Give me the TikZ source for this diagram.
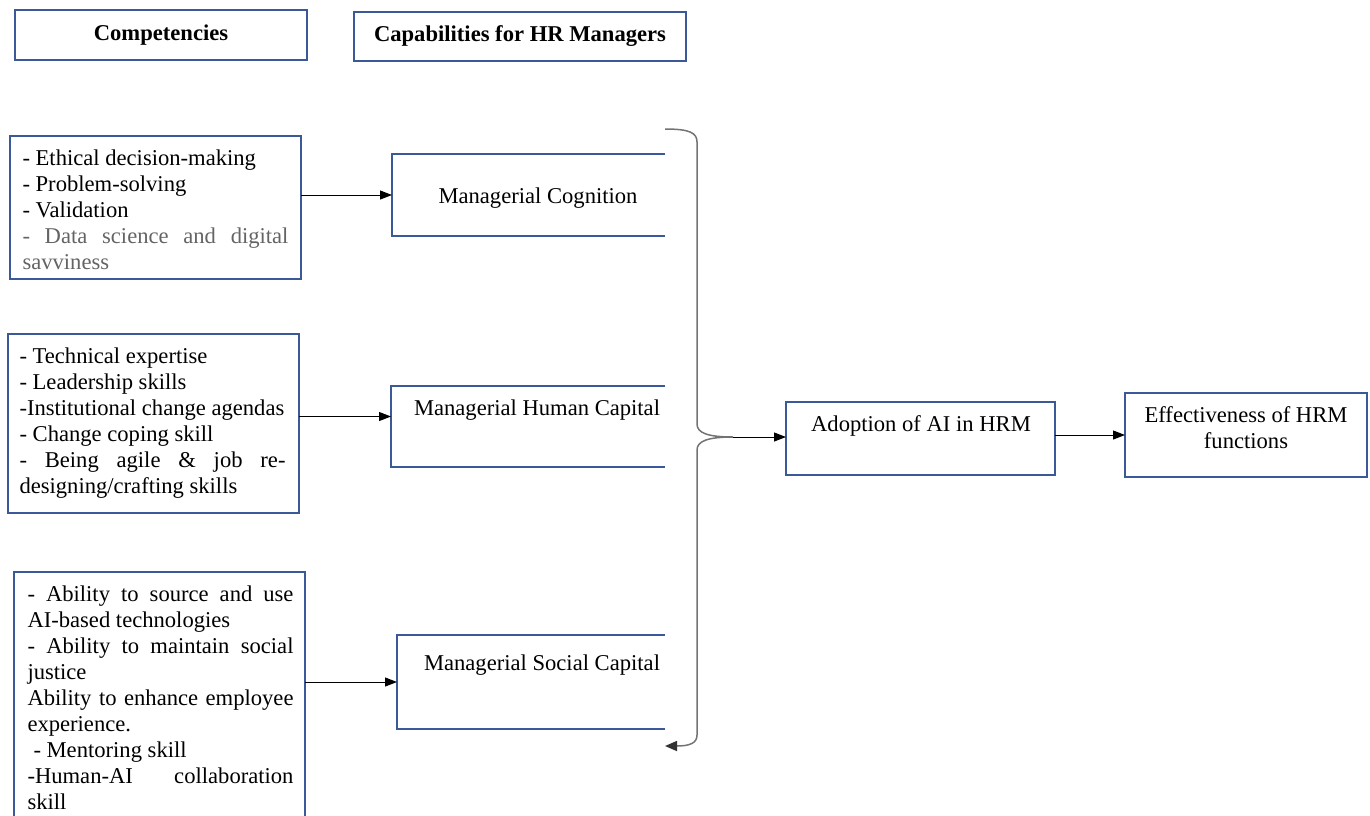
\documentclass[tikz,border=0pt]{standalone}
\usepackage{fontspec}
\setmainfont{Liberation Serif}
\usetikzlibrary{arrows.meta}
\definecolor{boxblue}{RGB}{59,89,152}
\definecolor{bracegray}{RGB}{115,115,115}
\definecolor{textgray}{RGB}{100,100,100}

\begin{document}
\begin{tikzpicture}[x=0.5pt,y=-0.5pt,font=\fontsize{11.3}{13}\selectfont,
	box/.style={draw=boxblue,line width=0.75pt,inner sep=0,outer sep=0},
	hollow/.style={inner sep=0,outer sep=0},
	open/.style={draw=boxblue,line width=0.75pt},
	list/.style={inner sep=0,text width=133pt,align=justify,anchor=north},
	arr/.style={-{Triangle[length=6pt,width=4.5pt]},line width=0.5pt},
	brace/.style={draw=bracegray,line width=0.75pt}]
	\useasboundingbox (0,0) rectangle (1370,815);
	% headings
	\node[box,minimum width=146pt,minimum height=25pt,font=\fontsize{11.3}{13}\selectfont\bfseries] (h1) at (161,35) {Competencies};
	\node[box,minimum width=166pt,minimum height=24.5pt,font=\fontsize{11.3}{13}\selectfont\bfseries] (h2) at (520,36.5) {Capabilities for HR Managers};
	% competencies
	\node[box,minimum width=145.5pt,minimum height=71.5pt] (c1) at (155.5,207.5) {};
	\node[list] (t1) at (155.5,149) {- Ethical decision-making\\
		- Problem-solving\\
		- Validation\\
		{\color{textgray}- Data science and digital\linebreak savviness}};
	\node[box,minimum width=145.5pt,minimum height=89.5pt] (c2) at (153.5,423.5) {};
	\node[list] (t2) at (152.5,347) {- Technical expertise\\
		- Leadership skills\\
		-Institutional change agendas\\
		- Change coping skill\\
		- Being agile \& job re-\linebreak designing/crafting skills};
	\node[hollow,minimum width=145.5pt,minimum height=130pt] (c3) at (159.5,702) {};
	\draw[open] (c3.south west) |- (c3.north east) -- (c3.south east);
	\node[list] (t3) at (160.5,585) {- Ability to source and use\linebreak AI-based technologies\\
		- Ability to maintain social\linebreak justice\\
		Ability to enhance employee\linebreak experience.\\
		\hspace*{3pt}- Mentoring skill\\
		-Human-AI collaboration\linebreak skill};
	% capabilities
	\node[hollow,minimum width=136.5pt,minimum height=41pt] (m1) at (528.5,195) {};
	\node[hollow,minimum width=137pt,minimum height=40.5pt] (m2) at (528,426.5) {};
	\node[hollow,minimum width=134pt,minimum height=47pt] (m3) at (531,682) {};
	\foreach \m in {m1,m2,m3}
		\draw[open] (\m.north east) -- (\m.north west) -- (\m.south west) -- (\m.south east);
	\node (t4) at (538,198) {Managerial Cognition};
	\node (t5) at (537,410) {Managerial Human Capital};
	\node (t6) at (542,665) {Managerial Social Capital};
	% outcomes
	\node[box,minimum width=134.5pt,minimum height=36.5pt] (a) at (920.5,438.5) {};
	\node (t7) at (921,426) {Adoption of AI in HRM};
	\node[box,minimum width=121pt,minimum height=42pt] (e) at (1246,435) {};
	\node[align=center] (t8) at (1246,428) {Effectiveness of HRM\\functions};
	% arrows
	\coordinate (m2in) at ([yshift=5pt]m2.west);
	\draw[arr] (c1.east |- m1) -- (m1);
	\draw[arr] (c2.east |- m2in) -- (m2in);
	\draw[arr] (c3.east |- m3) -- (m3);
	% brace
	\coordinate (btop) at (665,129);
	\coordinate (tip) at (733,437);
	\coordinate (bbot) at (665,746);
	\draw[brace] (btop) .. controls (690,129) and (697,133) .. (697,142) -- (697,424) .. controls (697,433) and (708,437) .. (tip);
	\draw[brace,-{Triangle[length=6pt,width=5pt,color=black!80]}] (tip) .. controls (708,437) and (697,441) .. (697,450) -- (697,735) .. controls (697,743) and (690,746) .. (bbot);
	\draw[arr] (tip) -- (tip -| a.west);
	\draw[arr] (a.east |- e) -- (e);
\end{tikzpicture}
\end{document}
